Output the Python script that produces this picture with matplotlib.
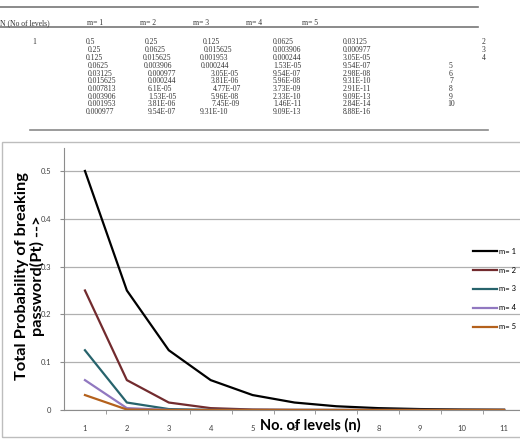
import matplotlib.pyplot as plt
from matplotlib.patches import Rectangle
from matplotlib.lines import Line2D

W, H = 520, 443

# category axis (number of levels)
levels = [1, 2, 3, 4, 5, 6, 7, 8, 9, 10, 11]

# total probability of breaking password for m = 1..5
m1 = [0.5, 0.25, 0.125, 0.0625, 0.03125, 0.015625, 0.007813, 0.003906, 0.001953, 0.000977, 0.000488]
m2 = [0.25, 0.0625, 0.015625, 0.003906, 0.000977, 0.000244, 6.1e-05, 1.53e-05, 3.81e-06, 9.54e-07, 2.38e-07]
m3 = [0.125, 0.015625, 0.001953, 0.000244, 3.05e-05, 3.81e-06, 4.77e-07, 5.96e-08, 7.45e-09, 9.31e-10, 1.16e-10]
m4 = [0.0625, 0.003906, 0.000244, 1.53e-05, 9.54e-07, 5.96e-08, 3.73e-09, 2.33e-10, 1.46e-11, 9.09e-13, 5.68e-14]
m5 = [0.03125, 0.000977, 3.05e-05, 9.54e-07, 2.98e-08, 9.31e-10, 2.91e-11, 9.09e-13, 2.84e-14, 8.88e-16, 2.78e-17]
series_names = ["m= 1", "m= 2", "m= 3", "m= 4", "m= 5"]
colors = ["#000000", "#722b2e", "#27636c", "#9178c0", "#b4611c"]

# table shown above the chart (as printed)
table_header = ["N (No of levels)", "m= 1", "m= 2", "m= 3", "m= 4", "m= 5"]
tab_c1 = ["0.5", "0.25", "0.125", "0.0625", "0.03125", "0.015625", "0.007813", "0.003906", "0.001953", "0.000977"]
tab_c2 = ["0.25", "0.0625", "0.015625", "0.003906", "0.000977", "0.000244", "6.1E-05", "1.53E-05", "3.81E-06", "9.54E-07"]
tab_c3 = ["0.125", "0.015625", "0.001953", "0.000244", "3.05E-05", "3.81E-06", "4.77E-07", "5.96E-08", "7.45E-09", "9.31E-10"]
tab_c4 = ["0.0625", "0.003906", "0.000244", "1.53E-05", "9.54E-07", "5.96E-08", "3.73E-09", "2.33E-10", "1.46E-11", "9.09E-13"]
tab_c5 = ["0.03125", "0.000977", "3.05E-05", "9.54E-07", "2.98E-08", "9.31E-10", "2.91E-11", "9.09E-13", "2.84E-14", "8.88E-16"]
tab_n = ["2", "3", "4", "5", "6", "7", "8", "9", "10"]

fig = plt.figure(figsize=(W / 100, H / 100), dpi=100)


def fx(px):
    return px / W


def fy(py):
    return 1 - py / H


# ---- table part ----
tcol = "#333333"
tfont = dict(family="Liberation Serif", size=5.5, color=tcol, va="center")
fig.add_artist(Line2D([fx(0), fx(478)], [fy(7), fy(7)], color="#777777", lw=1.2))
fig.add_artist(Line2D([fx(0), fx(478)], [fy(27), fy(27)], color="#777777", lw=1.2))
fig.add_artist(Line2D([fx(30), fx(488)], [fy(130), fy(130)], color="#8a8a8a", lw=1.2))
head_x = [0, 87, 140, 193, 246, 302]
for t, x in zip(table_header, head_x):
    fig.text(fx(x), fy(23), t, **tfont)

row_y = [42.5, 50.2, 58, 65.8, 73.5, 81.2, 89, 96.7, 104.4, 112.2]
c1_x = [86, 88, 86, 88, 88, 88, 88, 88, 88, 86]
c2_x = [145, 145, 143, 144, 148, 148, 148, 148, 148, 148]
c3_x = [203, 204, 200, 201, 211, 211, 213, 211, 211, 200]
fig.text(fx(32), fy(row_y[0]), "1", **tfont)
for i, y in enumerate(row_y):
    fig.text(fx(c1_x[i]), fy(y), tab_c1[i], **tfont)
    fig.text(fx(c2_x[i]), fy(y), tab_c2[i], **tfont)
    fig.text(fx(c3_x[i]), fy(y), tab_c3[i], **tfont)
    fig.text(fx(273), fy(y), tab_c4[i], **tfont)
    fig.text(fx(343), fy(y), tab_c5[i], **tfont)
n_x = [482, 482, 482, 449, 449, 449, 449, 449, 447]
for i, t in enumerate(tab_n):
    fig.text(fx(n_x[i]), fy(row_y[i]), t, **tfont)

# ---- chart area border ----
fig.add_artist(Rectangle((fx(2), fy(437)), fx(530) - fx(2), fy(142) - fy(437),
                         fill=False, edgecolor="#bdbdbd", lw=1.0))

# ---- plot ----
ax = fig.add_axes([fx(64), fy(410), fx(525) - fx(64), fy(148) - fy(410)])
all_series = [m1, m2, m3, m4, m5]
for vals, name, c in zip(all_series, series_names, colors):
    ax.plot(levels, vals, color=c, lw=1.6, label=name, solid_joinstyle="round")

ax.set_xlim(0.5, 11.5)
ax.set_ylim(0, 0.548)
ax.set_yticks([0, 0.1, 0.2, 0.3, 0.4, 0.5])
ax.set_yticklabels(["0", "0.1", "0.2", "0.3", "0.4", "0.5"])
ax.set_xticks(levels)
ax.set_xticks([x + 0.5 for x in levels], minor=True)
ax.yaxis.grid(True, color="#b0b0b0", lw=0.9)
ax.set_axisbelow(True)
for s in ["top", "right"]:
    ax.spines[s].set_visible(False)
ax.spines["left"].set_color("#8c8c8c")
ax.spines["bottom"].set_color("#8c8c8c")
ax.tick_params(axis="x", which="major", length=0, labelsize=5.5, labelcolor="#404040", pad=11, labelfontfamily="Lato")
ax.tick_params(axis="x", which="minor", length=3, color="#8c8c8c")
ax.tick_params(axis="y", length=3, color="#8c8c8c", labelsize=5.5, labelcolor="#404040", pad=6, labelfontfamily="Lato")

fig.text(fx(310), fy(425), "No. of levels (n)", family="Lato", weight="bold", size=10.5,
         ha="center", va="center", color="#000000")
fig.text(fx(30), fy(276), "Total Probability of breaking\npassword(Pt) -->", family="Lato",
         weight="bold", size=11.8, ha="center", va="center", rotation=90,
         multialignment="center", linespacing=1.1)

ax.legend(loc="center left", bbox_to_anchor=(fx(466), fy(289)), bbox_transform=fig.transFigure,
          frameon=False, handlelength=3.2, handletextpad=0.2, labelspacing=1.55,
          prop={"family": "Lato", "size": 5.5})

fig.savefig("out.png", dpi=100)
